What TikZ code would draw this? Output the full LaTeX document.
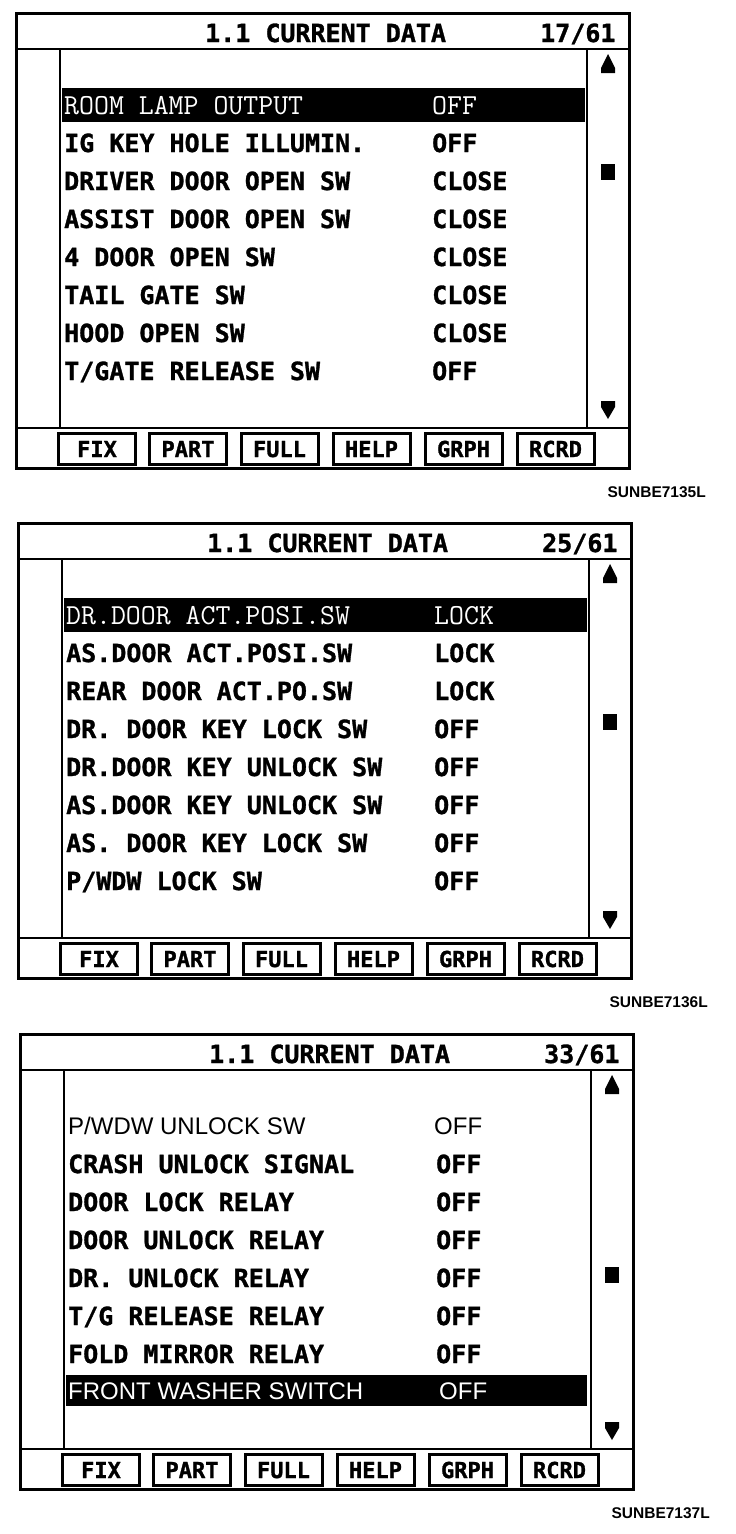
\documentclass[tikz,border=0pt]{standalone}
\usepackage{fontspec}
\newfontfamily\monofnt{DejaVu Sans Mono}[BoldFeatures={FakeBold=1.2}]
\newfontfamily\thinfnt{Latin Modern Mono}
\newfontfamily\sansfnt{Liberation Sans}
\tikzset{
  frame/.style={draw=black,line width=3pt},
  rule/.style={draw=black,line width=2.6pt},
  hlbar/.style={fill=black},
  rowtxt/.style={anchor=base west,inner sep=0pt,font=\monofnt\bfseries\fontsize{25}{25}\selectfont},
  hltxt/.style={anchor=base west,inner sep=0pt,text=white,font=\thinfnt\fontsize{29}{29}\selectfont},
  sanstxt/.style={anchor=base west,inner sep=0pt,font=\sansfnt\fontsize{24}{24}\selectfont},
  sanshl/.style={sanstxt,text=white},
  btn/.style={draw=black,line width=3pt,minimum width=77pt,minimum height=31pt,inner sep=0pt,
    text height=16pt,text depth=0pt,font=\monofnt\bfseries\fontsize{22}{22}\selectfont},
  captxt/.style={anchor=base east,inner sep=0pt,font=\sansfnt\bfseries\fontsize{15.5}{15.5}\selectfont},
  glyph/.style={fill=black},
}
% common screen frame: #1 id, #2 counter, #3 square centre y, #4 caption
\newcommand\screenframe[4]{%
  \draw[frame] (16,0) rectangle (629,455);
  \draw[rule] (16,36) -- (629,36);
  \draw[rule] (16,415) -- (629,415);
  \draw[rule] (60,36) -- (60,415);
  \draw[rule] (587,36) -- (587,415);
  \node[rowtxt] (#1title) at (205,29) {1.1 CURRENT DATA};
  \node[rowtxt] (#1count) at (540,29) {#2};
  \fill[glyph] (601,60) -- (601,55) -- (608,41) -- (615,55) -- (615,60) -- cycle;
  \fill[glyph] (601,#3-8) rectangle (615,#3+8);
  \fill[glyph] (601,388) -- (615,388) -- (615,394) -- (608,406) -- (601,394) -- cycle;
  \node[btn] (#1fix)  at (97,436)    {FIX};
  \node[btn] (#1part) at (188,436)   {PART};
  \node[btn] (#1full) at (279.5,436) {FULL};
  \node[btn] (#1help) at (371.5,436) {HELP};
  \node[btn] (#1grph) at (463.5,436) {GRPH};
  \node[btn] (#1rcrd) at (555.5,436) {RCRD};
  \node[captxt] (#1cap) at (706,484) {#4};
}
\begin{document}
\begin{tikzpicture}[x=1pt,y=-1pt]
\useasboundingbox (0,0) rectangle (736,1534);
\fill[white] (0,0) rectangle (736,1534);

% ---------------- panel 1 ----------------
\begin{scope}[shift={(0,13)}]
  \fill[hlbar] (62,75) rectangle (585,109);
  \screenframe{a}{17/61}{159}{SUNBE7135L}
  \node[hltxt]  (a1l) at (64,101) {ROOM LAMP OUTPUT};
  \node[hltxt]  (a1v) at (432,101) {OFF};
  \node[rowtxt] (a2l) at (64,139) {IG KEY HOLE ILLUMIN.};
  \node[rowtxt] (a2v) at (432,139) {OFF};
  \node[rowtxt] (a3l) at (64,177) {DRIVER DOOR OPEN SW};
  \node[rowtxt] (a3v) at (432,177) {CLOSE};
  \node[rowtxt] (a4l) at (64,215) {ASSIST DOOR OPEN SW};
  \node[rowtxt] (a4v) at (432,215) {CLOSE};
  \node[rowtxt] (a5l) at (64,253) {4 DOOR OPEN SW};
  \node[rowtxt] (a5v) at (432,253) {CLOSE};
  \node[rowtxt] (a6l) at (64,291) {TAIL GATE SW};
  \node[rowtxt] (a6v) at (432,291) {CLOSE};
  \node[rowtxt] (a7l) at (64,329) {HOOD OPEN SW};
  \node[rowtxt] (a7v) at (432,329) {CLOSE};
  \node[rowtxt] (a8l) at (64,367) {T/GATE RELEASE SW};
  \node[rowtxt] (a8v) at (432,367) {OFF};
\end{scope}

% ---------------- panel 2 ----------------
\begin{scope}[shift={(2,523)}]
  \fill[hlbar] (62,75) rectangle (585,109);
  \screenframe{b}{25/61}{199}{SUNBE7136L}
  \node[hltxt]  (b1l) at (64,101) {DR.DOOR ACT.POSI.SW};
  \node[hltxt]  (b1v) at (432,101) {LOCK};
  \node[rowtxt] (b2l) at (64,139) {AS.DOOR ACT.POSI.SW};
  \node[rowtxt] (b2v) at (432,139) {LOCK};
  \node[rowtxt] (b3l) at (64,177) {REAR DOOR ACT.PO.SW};
  \node[rowtxt] (b3v) at (432,177) {LOCK};
  \node[rowtxt] (b4l) at (64,215) {DR. DOOR KEY LOCK SW};
  \node[rowtxt] (b4v) at (432,215) {OFF};
  \node[rowtxt] (b5l) at (64,253) {DR.DOOR KEY UNLOCK SW};
  \node[rowtxt] (b5v) at (432,253) {OFF};
  \node[rowtxt] (b6l) at (64,291) {AS.DOOR KEY UNLOCK SW};
  \node[rowtxt] (b6v) at (432,291) {OFF};
  \node[rowtxt] (b7l) at (64,329) {AS. DOOR KEY LOCK SW};
  \node[rowtxt] (b7v) at (432,329) {OFF};
  \node[rowtxt] (b8l) at (64,367) {P/WDW LOCK SW};
  \node[rowtxt] (b8v) at (432,367) {OFF};
\end{scope}

% ---------------- panel 3 ----------------
\begin{scope}[shift={(4,1034)}]
  \fill[hlbar] (62,341) rectangle (583,372);
  \screenframe{c}{33/61}{241}{SUNBE7137L}
  \node[sanstxt] (c1l) at (64,100.5) {P/WDW UNLOCK SW};
  \node[sanstxt] (c1v) at (430,100.5) {OFF};
  \node[rowtxt] (c2l) at (64,139) {CRASH UNLOCK SIGNAL};
  \node[rowtxt] (c2v) at (432,139) {OFF};
  \node[rowtxt] (c3l) at (64,177) {DOOR LOCK RELAY};
  \node[rowtxt] (c3v) at (432,177) {OFF};
  \node[rowtxt] (c4l) at (64,215) {DOOR UNLOCK RELAY};
  \node[rowtxt] (c4v) at (432,215) {OFF};
  \node[rowtxt] (c5l) at (64,253) {DR. UNLOCK RELAY};
  \node[rowtxt] (c5v) at (432,253) {OFF};
  \node[rowtxt] (c6l) at (64,291) {T/G RELEASE RELAY};
  \node[rowtxt] (c6v) at (432,291) {OFF};
  \node[rowtxt] (c7l) at (64,329) {FOLD MIRROR RELAY};
  \node[rowtxt] (c7v) at (432,329) {OFF};
  \node[sanshl] (c8l) at (64,365) {FRONT WASHER SWITCH};
  \node[sanshl] (c8v) at (435,365) {OFF};
\end{scope}
\end{tikzpicture}
\end{document}
